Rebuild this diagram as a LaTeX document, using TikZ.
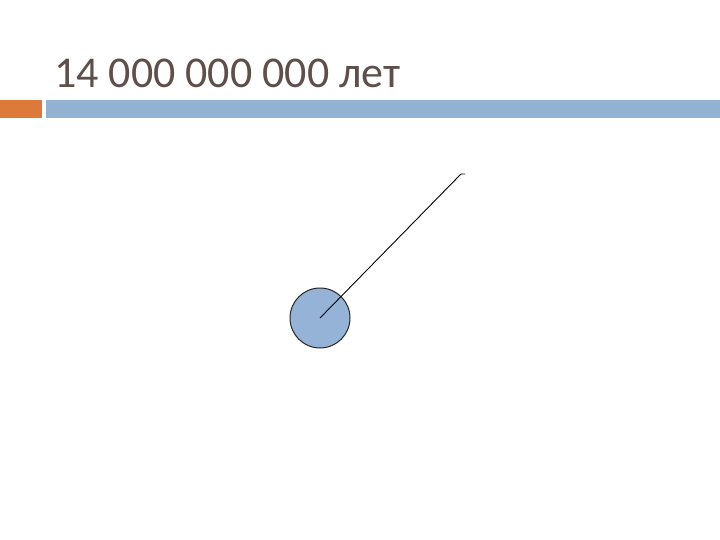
\documentclass[tikz,border=0pt]{standalone}
\usepackage{fontspec}
\setmainfont{Carlito}
\definecolor{titlecol}{HTML}{5E4F4A}
\definecolor{orangebar}{HTML}{DD7A3A}
\definecolor{bluebar}{HTML}{93B2D3}
\definecolor{ballfill}{HTML}{95B3D7}
\begin{document}
\begin{tikzpicture}[x=1pt,y=-1pt,
  bar/.style={draw=none},
  ball/.style={circle,draw=black!85,line width=1pt,fill=ballfill,minimum size=60pt,inner sep=0pt},
  ray/.style={draw=black,line width=0.9pt}]
\useasboundingbox (0,0) rectangle (720,540);
\fill[white] (0,0) rectangle (720,540);
\node[anchor=base west,inner sep=0pt,text=titlecol,font=\fontsize{44}{50}\selectfont] (title) at (54,88) {14 000 000 000 лет};
\fill[orangebar] (0,100) rectangle (42,118);
\fill[bluebar] (46,100) rectangle (720,118);
\node[ball] (ball) at (320,318) {};
\coordinate (tip) at (461,174);
\coordinate (hook) at (465,174);
\draw[ray] (ball.center) -- (tip) -- (hook);
\end{tikzpicture}
\end{document}
